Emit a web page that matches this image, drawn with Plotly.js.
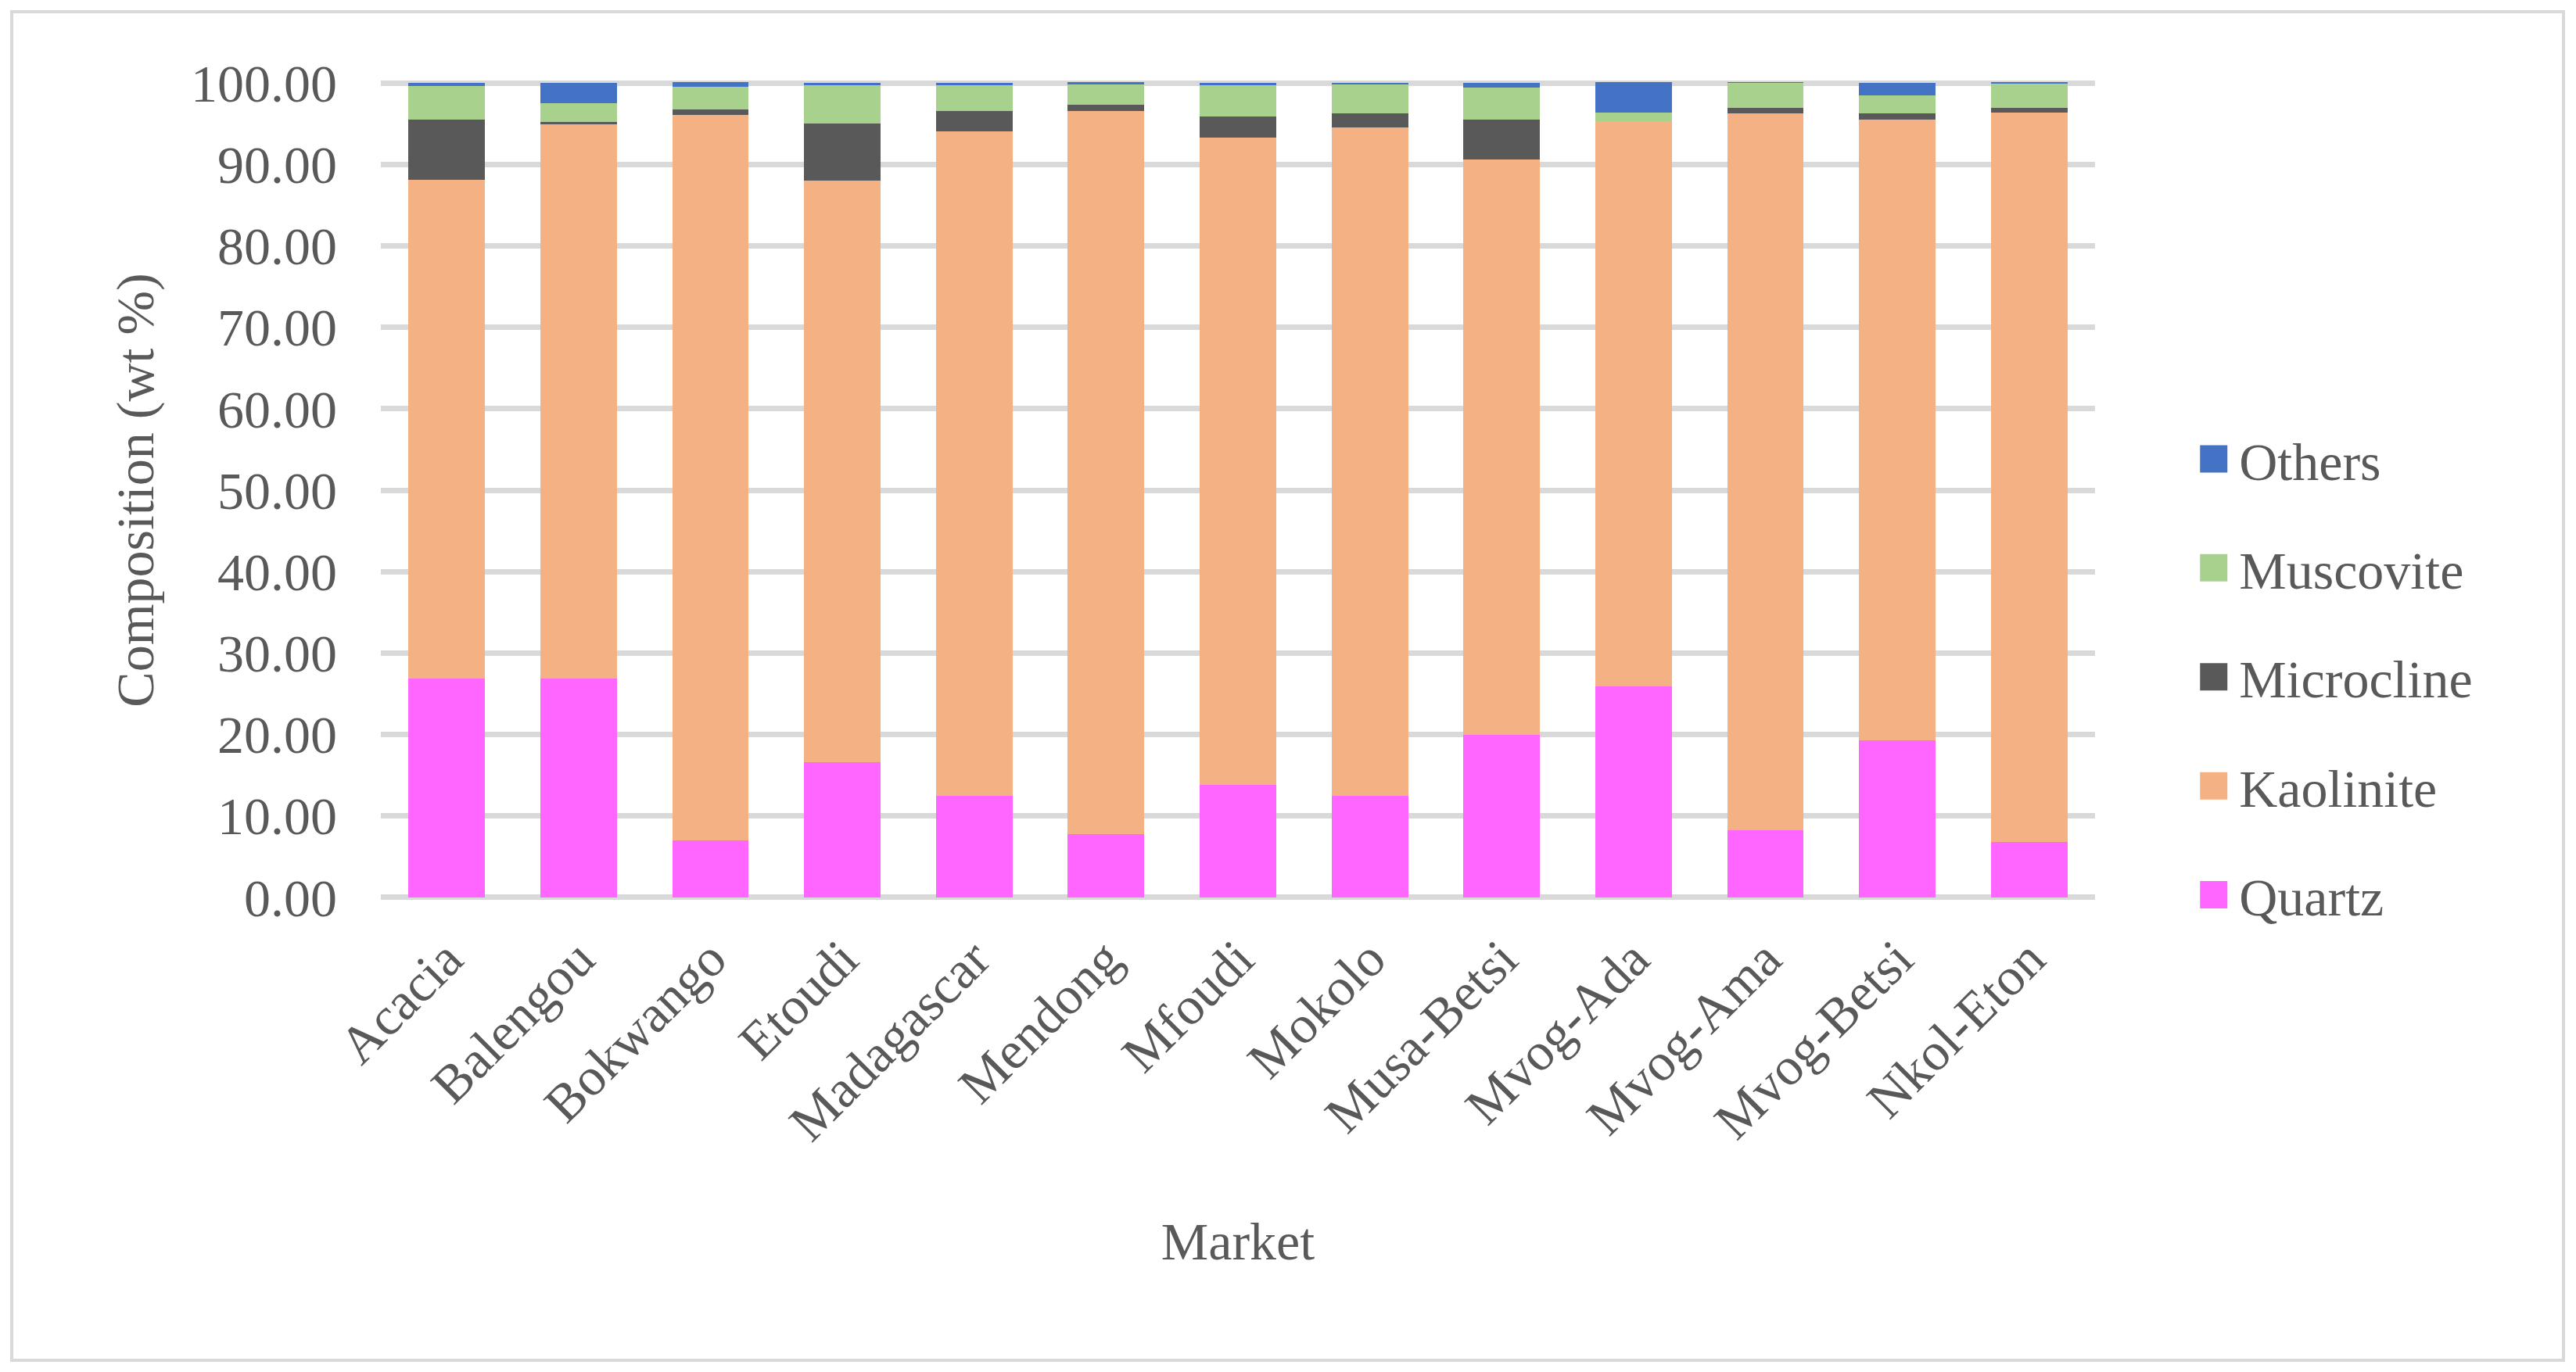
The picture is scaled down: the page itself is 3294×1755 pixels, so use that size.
<!DOCTYPE html>
<html><head><meta charset="utf-8">
<script src="https://cdn.plot.ly/plotly-3.0.1.min.js"></script>
<style>html,body{margin:0;padding:0;background:#fff;} #chart{width:3294px;height:1755px;}</style>
</head><body><div id="chart"></div>
<script>
const markets = ["Acacia","Balengou","Bokwango","Etoudi","Madagascar","Mendong","Mfoudi","Mokolo","Musa-Betsi","Mvog-Ada","Mvog-Ama","Mvog-Betsi","Nkol-Eton"];
const quartz     = [26.9, 26.9, 7.0, 16.6, 12.5, 7.8, 13.8, 12.5, 20.0, 25.9, 8.2, 19.3, 6.8];
const kaolinite  = [61.2, 68.0, 89.1, 71.4, 81.6, 88.8, 79.5, 82.0, 70.6, 69.4, 88.1, 76.2, 89.6];
const microcline = [7.4, 0.3, 0.7, 7.0, 2.5, 0.7, 2.6, 1.8, 4.9, 0.0, 0.6, 0.8, 0.5];
const muscovite  = [4.1, 2.3, 2.7, 4.7, 3.1, 2.5, 3.8, 3.5, 3.9, 1.1, 3.1, 2.2, 3.0];
const others     = [0.4, 2.5, 0.6, 0.3, 0.3, 0.3, 0.3, 0.2, 0.6, 3.7, 0.1, 1.5, 0.2];
const yTicks = [0, 10, 20, 30, 40, 50, 60, 70, 80, 90, 100];

const series = [
  {name: "Quartz", y: quartz, color: "#FF66FF", rank: 5},
  {name: "Kaolinite", y: kaolinite, color: "#F4B183", rank: 4},
  {name: "Microcline", y: microcline, color: "#595959", rank: 3},
  {name: "Muscovite", y: muscovite, color: "#A9D18E", rank: 2},
  {name: "Others", y: others, color: "#4472C4", rank: 1}
];
const traces = series.map(s => ({
  type: "bar", name: s.name, x: markets, y: s.y, legendgroup: s.name, legendrank: s.rank,
  marker: {color: s.color, line: {width: 0}}
}));

const FONT = "Liberation Serif, Times New Roman, serif";
const layout = {
  width: 3294, height: 1755,
  margin: {l: 487, r: 615, t: 102, b: 603, pad: 0},
  paper_bgcolor: "#ffffff", plot_bgcolor: "#ffffff",
  barmode: "stack", bargap: 0.42,
  font: {family: FONT, size: 68, color: "#595959"},
  xaxis: {
    type: "category", tickangle: -45, showgrid: false, zeroline: false, showline: false,
    ticks: "", ticklabelstandoff: 20, automargin: false,
    tickfont: {family: FONT, size: 68, color: "#595959"},
    title: {text: "Market", standoff: 90, font: {family: FONT, size: 68, color: "#595959"}}
  },
  yaxis: {
    range: [-0.4, 100.4], tickvals: yTicks, tickformat: ".2f",
    showgrid: true, gridcolor: "#D9D9D9", gridwidth: 7, zeroline: false, showline: false,
    ticks: "", ticklabelstandoff: 55, automargin: false,
    tickfont: {family: FONT, size: 68, color: "#595959"},
    title: {text: "Composition (wt %)", standoff: 25, font: {family: FONT, size: 68, color: "#595959"}}
  },
  legend: {
    x: 1.0544, xanchor: "left", y: 0.2726, yanchor: "middle",
    traceorder: "grouped", tracegroupgap: 48, itemwidth: 55,
    font: {family: FONT, size: 68, color: "#595959"}, bgcolor: "rgba(0,0,0,0)"
  },
  shapes: [{
    type: "rect", xref: "paper", yref: "paper",
    x0: (15 - 487) / 2192, x1: (3278 - 487) / 2192,
    y0: (1152 - 1740) / 1050, y1: (1152 - 15) / 1050,
    line: {color: "#D9D9D9", width: 4}, fillcolor: "rgba(0,0,0,0)", layer: "below"
  }],
  hovermode: false
};

function fixLegend() {
  document.querySelectorAll("#chart .legend .legendpoints path").forEach(p => {
    p.setAttribute("d", "M17.5,17.5H-17.5V-17.5H17.5Z");
  });
}
Plotly.newPlot("chart", traces, layout, {displayModeBar: false, staticPlot: true}).then(gd => {
  fixLegend();
  gd.on("plotly_afterplot", fixLegend);
});
</script>
</body></html>
